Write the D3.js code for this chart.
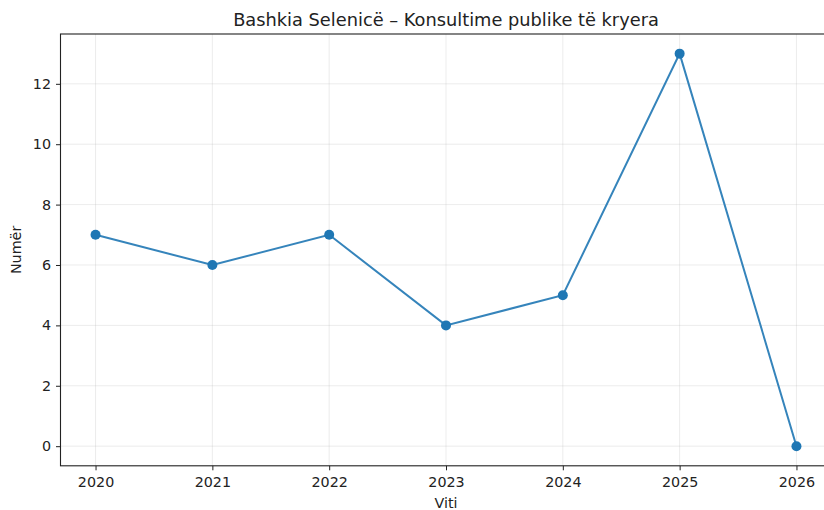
<!DOCTYPE html>
<html><head><meta charset="utf-8">
<script src="https://cdn.jsdelivr.net/npm/d3@7"></script>
<style>body{margin:0;background:#fff;} svg{display:block;font-family:"DejaVu Sans",sans-serif;}</style>
</head><body><svg id="c" width="824" height="510"></svg>
<script>
const years = [2020, 2021, 2022, 2023, 2024, 2025, 2026];
const values = [7, 6, 7, 4, 5, 13, 0];
const yTicks = [0, 2, 4, 6, 8, 10, 12];
const title = "Bashkia Selenicë – Konsultime publike të kryera";
const xLabel = "Viti";
const yLabel = "Numër";

const svg = d3.select("#c");
const L = 60.5, R = 831.5, T = 34, B = 465.8;
const x = d3.scaleLinear().domain([2019.7, 2026.3]).range([L, R]);
const y = d3.scaleLinear().domain([-0.65, 13.65]).range([B, T]);

const g = svg.append("g");
g.selectAll(".gx").data(years).enter().append("line")
  .attr("x1", d => x(d)).attr("x2", d => x(d)).attr("y1", T).attr("y2", B)
  .attr("stroke", "#b0b0b0").attr("stroke-opacity", 0.3).attr("stroke-width", 0.8);
g.selectAll(".gy").data(yTicks).enter().append("line")
  .attr("x1", L).attr("x2", R).attr("y1", d => y(d)).attr("y2", d => y(d))
  .attr("stroke", "#b0b0b0").attr("stroke-opacity", 0.3).attr("stroke-width", 0.8);

const xAxis = d3.axisBottom(x).tickValues(years).tickFormat(d3.format("d")).tickSize(4.5).tickPadding(7);
const yAxis = d3.axisLeft(y).tickValues(yTicks).tickSize(4.5).tickPadding(5);
const gx = svg.append("g").attr("transform", `translate(0,${B})`).call(xAxis);
const gy = svg.append("g").attr("transform", `translate(${L},0)`).call(yAxis);
[gx, gy].forEach(a => {
  a.select(".domain").remove();
  a.selectAll("line").attr("stroke", "#222").attr("stroke-width", 1);
  a.selectAll("text").attr("font-size", 14.3).attr("fill", "#222").attr("font-family", "DejaVu Sans");
});
svg.append("rect").attr("x", L).attr("y", T).attr("width", R - L).attr("height", B - T)
  .attr("fill", "none").attr("stroke", "#222").attr("stroke-width", 1.1);

const line = d3.line().x((d, i) => x(years[i])).y(d => y(d));
svg.append("path").datum(values).attr("d", line).attr("fill", "none")
  .attr("stroke", "#1f77b4").attr("stroke-width", 2).attr("stroke-opacity", 0.9);
svg.selectAll(".pt").data(values).enter().append("circle")
  .attr("cx", (d, i) => x(years[i])).attr("cy", d => y(d)).attr("r", 5)
  .attr("fill", "#1f77b4");

svg.append("text").attr("x", (L + R) / 2).attr("y", 26).attr("text-anchor", "middle")
  .attr("font-size", 17.8).attr("fill", "#222").text(title);
svg.append("text").attr("x", (L + R) / 2).attr("y", 508).attr("text-anchor", "middle")
  .attr("font-size", 14.3).attr("fill", "#222").text(xLabel);
svg.append("text").attr("transform", `translate(21,${(T + B) / 2}) rotate(-90)`).attr("text-anchor", "middle")
  .attr("font-size", 14.3).attr("fill", "#222").text(yLabel);
</script></body></html>
